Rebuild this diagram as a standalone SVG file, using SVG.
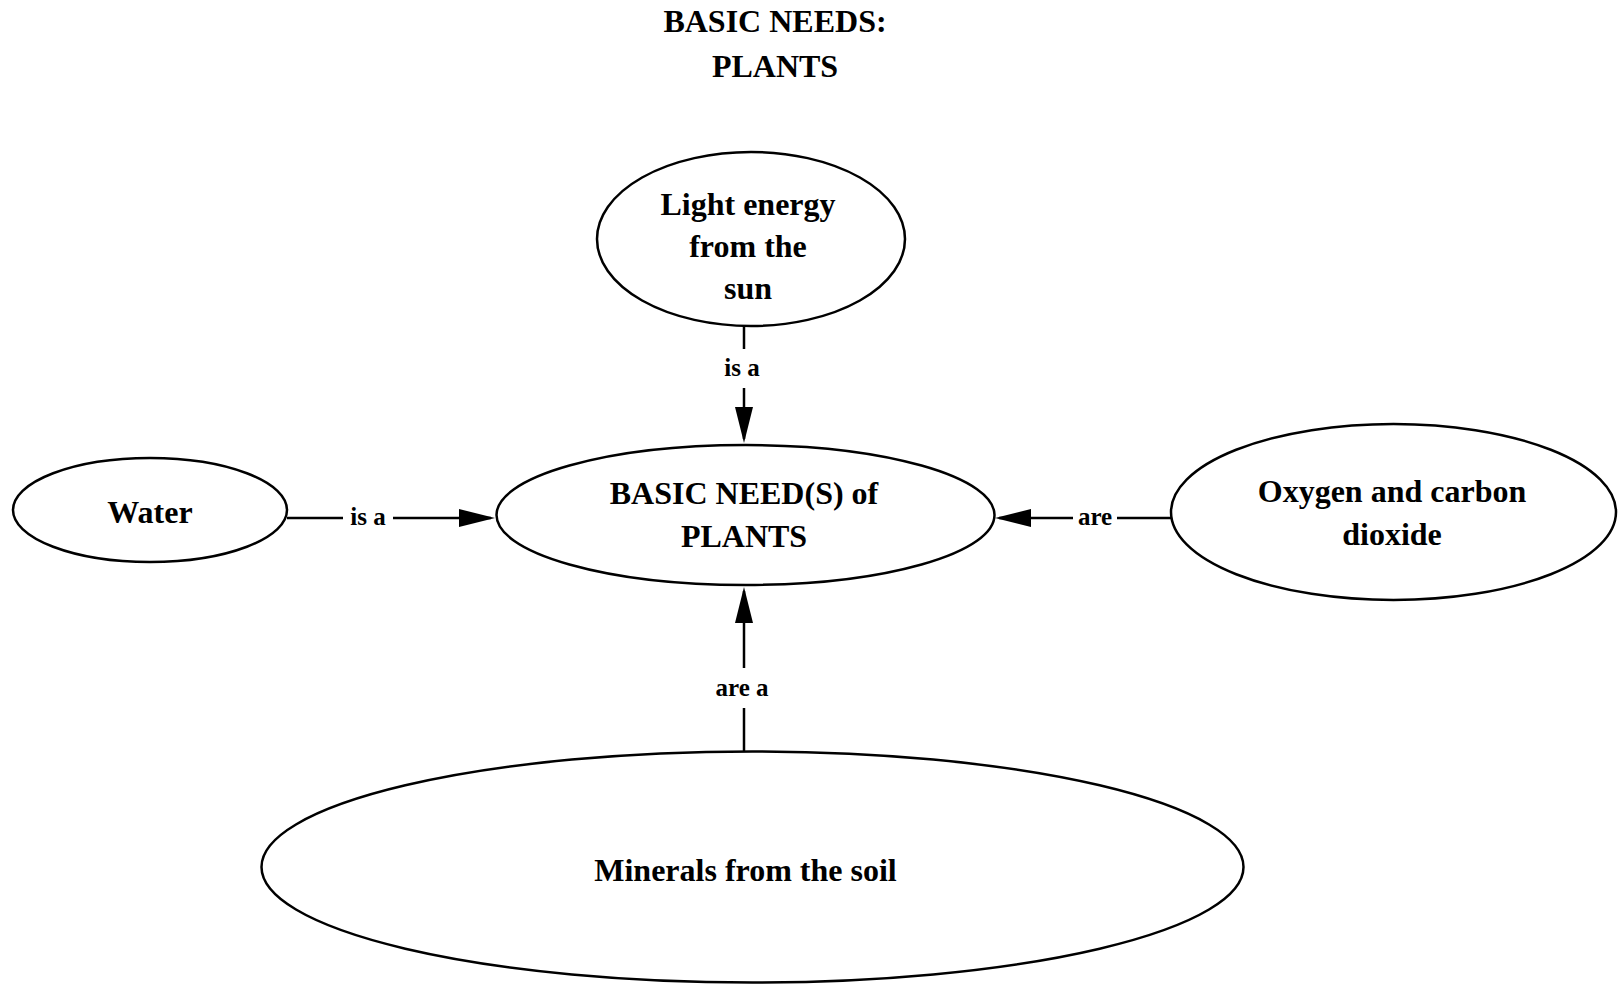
<svg xmlns="http://www.w3.org/2000/svg" width="1621" height="984" viewBox="0 0 1621 984">
  <style>
    .node { fill: #ffffff; stroke: #000000; stroke-width: 2.5; }
    .txt { font-family: "Liberation Serif", "Times New Roman", serif; font-weight: bold; font-size: 32px; text-anchor: middle; fill: #000000; }
    .lbl { font-family: "Liberation Serif", "Times New Roman", serif; font-weight: bold; font-size: 25px; text-anchor: middle; fill: #000000; }
    .edge { fill: none; stroke: #000000; stroke-width: 2.5; }
  </style>
  <defs>
    <marker id="arrow" markerUnits="userSpaceOnUse" markerWidth="38" markerHeight="20" viewBox="0 0 38 20" refX="32" refY="10" orient="auto">
      <path d="M0,1 L36,10 L0,19 Z" fill="#000000"/>
    </marker>
  </defs>

  <rect width="1621" height="984" fill="#ffffff"/>

  <!-- title -->
  <g id="title">
    <text class="txt" x="775" y="32">BASIC NEEDS:</text>
    <text class="txt" x="775" y="77">PLANTS</text>
  </g>

  <!-- connectors -->
  <g id="connectors">
    <!-- Light energy -> basic needs -->
    <line class="edge" x1="744" y1="326" x2="744" y2="349"/>
    <text class="lbl" x="742" y="376">is a</text>
    <line class="edge" x1="744" y1="388" x2="744" y2="439" marker-end="url(#arrow)"/>

    <!-- Water -> basic needs -->
    <line class="edge" x1="287" y1="518" x2="343" y2="518"/>
    <text class="lbl" x="368" y="525">is a</text>
    <line class="edge" x1="393" y1="518" x2="491" y2="518" marker-end="url(#arrow)"/>

    <!-- Oxygen and carbon dioxide -> basic needs -->
    <line class="edge" x1="1171" y1="518" x2="1117" y2="518"/>
    <text class="lbl" x="1095" y="525">are</text>
    <line class="edge" x1="1073" y1="518" x2="999" y2="518" marker-end="url(#arrow)"/>

    <!-- Minerals -> basic needs -->
    <line class="edge" x1="744" y1="752" x2="744" y2="708"/>
    <text class="lbl" x="742" y="696">are a</text>
    <line class="edge" x1="744" y1="668" x2="744" y2="591" marker-end="url(#arrow)"/>
  </g>

  <g id="node-light">
    <ellipse class="node" cx="751" cy="239" rx="154" ry="87"/>
    <text class="txt" x="748" y="215">Light energy</text>
    <text class="txt" x="748" y="257">from the</text>
    <text class="txt" x="748" y="299">sun</text>
  </g>

  <g id="node-basic">
    <ellipse class="node" cx="745.5" cy="515" rx="249" ry="70"/>
    <text class="txt" x="744" y="504">BASIC NEED(S) of</text>
    <text class="txt" x="744" y="547">PLANTS</text>
  </g>

  <g id="node-water">
    <ellipse class="node" cx="150" cy="510" rx="137" ry="52"/>
    <text class="txt" x="150" y="523">Water</text>
  </g>

  <g id="node-oxygen">
    <ellipse class="node" cx="1393.5" cy="512" rx="222.5" ry="88"/>
    <text class="txt" x="1392" y="502">Oxygen and carbon</text>
    <text class="txt" x="1392" y="545">dioxide</text>
  </g>

  <g id="node-minerals">
    <ellipse class="node" cx="752.5" cy="867" rx="491" ry="115.5"/>
    <text class="txt" x="745.5" y="881">Minerals from the soil</text>
  </g>
</svg>
